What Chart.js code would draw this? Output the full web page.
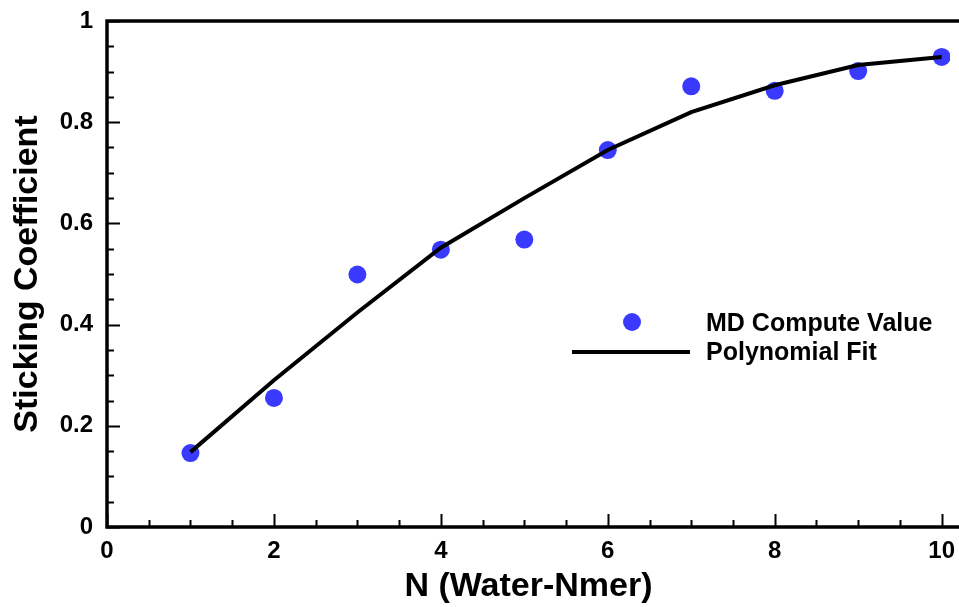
<!DOCTYPE html>
<html>
<head>
<meta charset="utf-8">
<title>Sticking Coefficient</title>
<script src="https://cdn.jsdelivr.net/npm/chart.js@4/dist/chart.umd.min.js"></script>
<style>
  html, body { margin: 0; padding: 0; background: #fff; }
</style>
</head>
<body>
<canvas id="stickChart" width="959" height="607"></canvas>
<script>
// cluster size (number of water molecules)
const nValues = [1, 2, 3, 4, 5, 6, 7, 8, 9, 10];
// sticking coefficient from the MD runs
const mdValues = [0.146, 0.255, 0.499, 0.548, 0.568, 0.745, 0.871, 0.862, 0.901, 0.929];
// polynomial fit evaluated at each N
const fitValues = [0.148, 0.290, 0.424, 0.552, 0.650, 0.745, 0.820, 0.873, 0.913, 0.929];

const xTickValues = [0, 2, 4, 6, 8, 10];
const yTickValues = [0, 0.2, 0.4, 0.6, 0.8, 1];
const xMinorStep = 0.5;
const yMinorStep = 0.05;

const FONT = "'Liberation Sans', Arial, Helvetica, sans-serif";
const dotColor = "rgb(58, 58, 255)";

// axis frame with inward ticks on the left and bottom
const framePlugin = {
    id: "frame",
    beforeDatasetsDraw(chart) {
        const { ctx, chartArea: a, scales } = chart;
        const xs = scales.x, ys = scales.y;
        const rightEdge = chart.width + 2;
        ctx.save();
        ctx.strokeStyle = "#000";
        ctx.lineCap = "square";
        ctx.lineWidth = 3.5;
        ctx.beginPath();
        ctx.moveTo(rightEdge, a.top);
        ctx.lineTo(a.left, a.top);
        ctx.lineTo(a.left, a.bottom);
        ctx.lineTo(rightEdge, a.bottom);
        ctx.stroke();

        ctx.lineWidth = 2;
        ctx.lineCap = "butt";
        ctx.beginPath();
        for (let v = 0; v <= 10.001; v += xMinorStep) {
            const px = Math.round(xs.getPixelForValue(v)) + 0.5;
            const major = xTickValues.some(t => Math.abs(t - v) < 1e-6);
            ctx.moveTo(px, a.bottom);
            ctx.lineTo(px, a.bottom - (major ? 13 : 7));
        }
        for (let v = 0; v <= 1.0001; v += yMinorStep) {
            const py = Math.round(ys.getPixelForValue(v)) + 0.5;
            const major = yTickValues.some(t => Math.abs(t - v) < 1e-6);
            ctx.moveTo(a.left, py);
            ctx.lineTo(a.left + (major ? 13 : 7), py);
        }
        ctx.stroke();
        ctx.restore();
    }
};

// legend placed inside the plot
const legendPlugin = {
    id: "insideLegend",
    afterDraw(chart) {
        const { ctx } = chart;
        const md = chart.data.datasets[0];
        const fit = chart.data.datasets[1];
        ctx.save();
        ctx.fillStyle = md.backgroundColor;
        ctx.beginPath();
        ctx.arc(632, 322, 9, 0, Math.PI * 2);
        ctx.fill();

        ctx.strokeStyle = fit.borderColor;
        ctx.lineWidth = fit.borderWidth;
        ctx.beginPath();
        ctx.moveTo(572, 352);
        ctx.lineTo(690, 352);
        ctx.stroke();

        ctx.fillStyle = "#000";
        ctx.font = "bold 25px " + FONT;
        ctx.textBaseline = "middle";
        ctx.textAlign = "left";
        ctx.fillText(md.label, 706, 324);
        ctx.fillText(fit.label, 706, 353);
        ctx.restore();
    }
};

new Chart(document.getElementById("stickChart"), {
    type: "scatter",
    data: {
        datasets: [
            {
                label: "MD Compute Value",
                data: nValues.map((n, i) => ({ x: n, y: mdValues[i] })),
                backgroundColor: dotColor,
                borderWidth: 0,
                pointRadius: 9,
                order: 1
            },
            {
                label: "Polynomial Fit",
                data: nValues.map((n, i) => ({ x: n, y: fitValues[i] })),
                showLine: true,
                borderColor: "#000",
                borderWidth: 4,
                pointRadius: 0,
                tension: 0,
                order: 0
            }
        ]
    },
    options: {
        responsive: false,
        animation: false,
        layout: { padding: { top: 21, right: 0, bottom: 0, left: 0 } },
        plugins: {
            legend: { display: false },
            tooltip: { enabled: false }
        },
        scales: {
            x: {
                type: "linear",
                min: 0,
                max: 10.1,
                grid: { display: false, drawTicks: false },
                border: { display: false },
                afterBuildTicks: s => { s.ticks = xTickValues.map(v => ({ value: v })); },
                afterFit: s => {
                    s.height = 80;
                    s.paddingLeft = 0;
                    s.paddingRight = 0;
                },
                ticks: {
                    padding: 10,
                    color: "#000",
                    maxRotation: 0,
                    callback: v => String(v),
                    font: { family: FONT, size: 24, weight: "bold" }
                },
                title: {
                    display: true,
                    text: "N (Water-Nmer)",
                    color: "#000",
                    padding: { top: 0, bottom: 0 },
                    font: { family: FONT, size: 34, weight: "bold" }
                }
            },
            y: {
                min: 0,
                max: 1,
                grid: { display: false, drawTicks: false },
                border: { display: false },
                afterBuildTicks: s => { s.ticks = yTickValues.map(v => ({ value: v })); },
                afterFit: s => {
                    s.width = 107;
                    s.paddingTop = 0;
                    s.paddingBottom = 0;
                },
                ticks: {
                    padding: 14,
                    color: "#000",
                    callback: v => String(Math.round(v * 10) / 10),
                    font: { family: FONT, size: 24, weight: "bold" }
                },
                title: {
                    display: true,
                    text: "Sticking Coefficient",
                    color: "#000",
                    padding: { top: 7, bottom: 0 },
                    font: { family: FONT, size: 34, weight: "bold" }
                }
            }
        }
    },
    plugins: [framePlugin, legendPlugin]
});
</script>
</body>
</html>
